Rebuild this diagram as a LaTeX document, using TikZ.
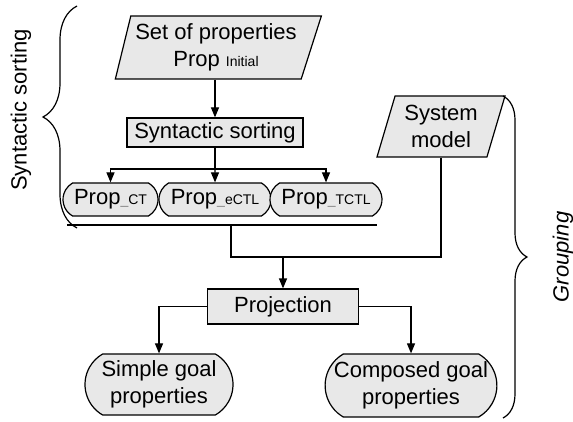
\documentclass[tikz,border=0pt]{standalone}
\usepackage{fontspec}
\setmainfont{Liberation Sans}
\usetikzlibrary{arrows.meta,shapes.geometric,shapes.misc,decorations.pathreplacing}
\definecolor{boxgray}{RGB}{232,232,232}
\newcommand{\subtxt}[1]{{\fontsize{14}{16}\selectfont #1}}
\newcommand{\subbar}{\textcolor{gray}{\_}}

\begin{document}
\begin{tikzpicture}[
    x=1pt,
    y=-1pt,
    >={Triangle[length=10pt,width=8pt]},
    line width=1.2pt,
    every node/.style={font=\fontsize{22}{27}\selectfont,align=center,inner sep=0pt},
    dataset/.style={trapezium,trapezium stretches body,draw,fill=boxgray},
    task/.style={rectangle,draw,fill=boxgray},
    propbox/.style={rounded rectangle,rounded rectangle arc length=120,draw,fill=boxgray},
    sidebrace/.style={decorate,decoration={brace,amplitude=#1}}
]
  \useasboundingbox (0,0) rectangle (573,422);

  % input sets
  \node[dataset,trapezium left angle=72,trapezium right angle=113,
        minimum width=206pt,minimum height=63pt] (initial) at (216,47.5)
    {Set of properties\\Prop \subtxt{Initial}};
  \node[dataset,trapezium left angle=67,trapezium right angle=113,
        minimum width=128pt,minimum height=61pt] (model) at (441,126.5)
    {System\\model};

  % sorting step
  \node[task,minimum width=176pt,minimum height=29pt] (sorting) at (215,132.5) {Syntactic sorting};
  \node[propbox,minimum width=95pt,minimum height=33pt] (ct) at (110.5,199.5) {Prop\subtxt{\subbar CT}};
  \node[propbox,minimum width=112pt,minimum height=33pt] (ectl) at (215,199.5) {Prop\subtxt{\subbar eCTL}};
  \node[propbox,minimum width=112pt,minimum height=33pt] (tctl) at (326,199.5) {Prop\subtxt{\subbar TCTL}};

  % grouping step
  \node[task,minimum width=151pt,minimum height=35pt] (projection) at (283,306.5) {Projection};
  \node[propbox,minimum width=148pt,minimum height=61pt] (simple) at (159,384.5) {Simple goal\\properties};
  \node[propbox,minimum width=170pt,minimum height=63pt] (composed) at (411,385.5) {Composed goal\\properties};

  \coordinate (split) at (215,169);
  \coordinate (collect west) at (67,225);
  \coordinate (collect east) at (377,225);
  \coordinate (collect) at (231,225);
  \coordinate (merge) at (283,257);

  \draw[->] (sorting.north |- initial.south) -- (sorting);
  \draw (sorting) -- (split);
  \draw[->] (split) -- (ectl);
  \draw[->] (split) -| (ct);
  \draw[->] (split) -| (tctl);
  \draw (collect west) -- (collect east);

  \draw (collect) |- (merge);
  \draw (model) |- (merge);
  \draw[->] (merge) -- (projection);
  \draw[->] (projection) -| (simple);
  \draw[->] (projection) -| (composed);

  % braces and their labels
  \coordinate (sort bottom) at (77,228);
  \coordinate (sort top) at (77,6);
  \coordinate (group top) at (503,96);
  \coordinate (group bottom) at (503,418);
  \draw[sidebrace=34] (sort bottom) -- (sort top);
  \draw[sidebrace=24] (group top) -- (group bottom);
  \node[rotate=90] (sortlabel) at (21,110) {Syntactic sorting};
  \node[rotate=90] (grouplabel) at (563,257) {\itshape Grouping};
\end{tikzpicture}
\end{document}
